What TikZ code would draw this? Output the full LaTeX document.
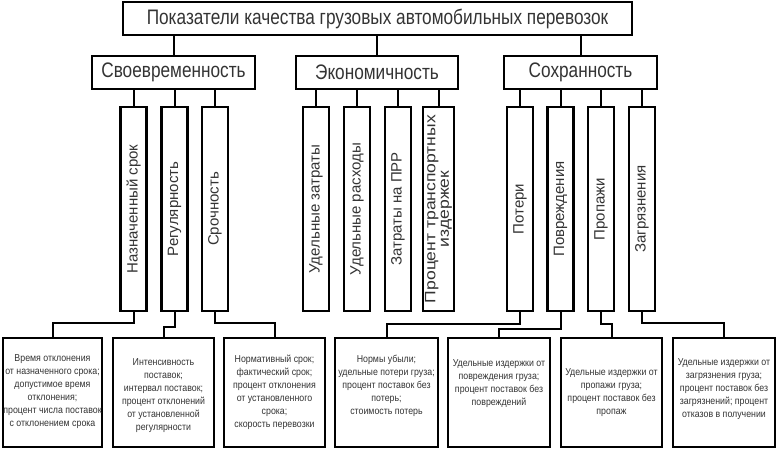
\documentclass[tikz,border=0pt]{standalone}
\usepackage{fontspec}
\setmainfont{Liberation Sans}
\newfontfamily\headfont[FakeStretch=0.82]{Liberation Sans}
\newfontfamily\bodyfont[FakeStretch=0.88]{Liberation Sans}
\newfontfamily\widefont[FakeStretch=1.17]{Liberation Sans}
\usetikzlibrary{calc}
\begin{document}
\begin{tikzpicture}[x=1pt,y=-1pt,
  box/.style={draw=black,line width=2.4pt,inner sep=0pt,text=black!80},
  headbox/.style={box,minimum height=33pt,font=\headfont\fontsize{21}{23}\selectfont},
  vbox/.style={box,minimum height=26pt,minimum width=204pt,rotate=90,
     font=\fontsize{15}{13}\selectfont,align=center},
  bbox/.style={box,minimum height=109pt},
  btext/.style={align=center,inner sep=0pt,text=black!80,
     font=\bodyfont\fontsize{10}{13}\selectfont},
  link/.style={draw=black,line width=2pt}]
\useasboundingbox (0,0) rectangle (776,449);
\node[headbox,minimum width=509pt] (top) at (377.5,18.5) {Показатели качества грузовых автомобильных перевозок};
\node[headbox,minimum width=163pt] (sv) at (173.5,72.5) {Своевременность};
\node[headbox,minimum width=162pt] (ek) at (377,72.5) {Экономичность};
\node[headbox,minimum width=153pt] (so) at (580.5,72.5) {Сохранность};
% vertical boxes
\node[vbox] (s1) at (133.5,209) {Назначенный срок};
\node[vbox] (s2) at (174.5,209) {Регулярность};
\node[vbox] (s3) at (215,209) {Срочность};
\node[vbox] (e1) at (316,209) {Удельные затраты};
\node[vbox] (e2) at (357,209) {Удельные расходы};
\node[vbox] (e3) at (398,209) {Затраты на ПРР};
\node[vbox,minimum height=31pt,font=\widefont\fontsize{15}{13.5}\selectfont] (e4) at (438.5,209) {Процент транспортных\\издержек};
\node[vbox] (c1) at (520,209) {Потери};
\node[vbox] (c2) at (560.5,209) {Повреждения};
\node[vbox] (c3) at (601,209) {Пропажи};
\node[vbox] (c4) at (642,209) {Загрязнения};
% bottom boxes
\node[bbox,minimum width=99pt] (b1) at (52.5,392.5) {};
\node[bbox,minimum width=101pt] (b2) at (163.5,392.5) {};
\node[bbox,minimum width=101pt] (b3) at (274.5,392.5) {};
\node[bbox,minimum width=103pt] (b4) at (386.5,392.5) {};
\node[bbox,minimum width=102pt] (b5) at (499,392.5) {};
\node[bbox,minimum width=101pt] (b6) at (611.5,392.5) {};
\node[bbox,minimum width=102pt] (b7) at (724,392.5) {};
\node[btext] (t1) at ($(b1)+(0,-1)$) {Время отклонения\\от назначенного срока;\\допустимое время\\отклонения;\\процент числа поставок\\с отклонением срока};
\node[btext] (t2) at ($(b2)+(0,3)$) {Интенсивность\\поставок;\\интервал поставок;\\процент отклонений\\от установленной\\регулярности};
\node[btext] (t3) at ($(b3)+(0,0)$) {Нормативный срок;\\фактический срок;\\процент отклонения\\от установленного\\срока;\\скорость перевозки};
\node[btext] (t4) at ($(b4)+(0,-7)$) {Нормы убыли;\\удельные потери груза;\\процент поставок без\\потерь;\\стоимость потерь};
\node[btext] (t5) at ($(b5)+(0,-9)$) {Удельные издержки от\\повреждения груза;\\процент поставок без\\повреждений};
\node[btext] (t6) at ($(b6)+(0,0)$) {Удельные издержки от\\пропажи груза;\\процент поставок без\\пропаж};
\node[btext] (t7) at ($(b7)+(0,-3)$) {Удельные издержки от\\загрязнения груза;\\процент поставок без\\загрязнений; процент\\отказов в получении};
% top links
\foreach \n in {sv,ek,so} \draw[link] (\n.north) -- (\n.north |- top.south);
% second level links
\foreach \n in {s1,s2,s3} \draw[link] (\n.east) -- (\n.east |- sv.south);
\foreach \n in {e1,e2,e3,e4} \draw[link] (\n.east) -- (\n.east |- ek.south);
\foreach \n in {c1,c2,c3,c4} \draw[link] (\n.east) -- (\n.east |- so.south);
% bottom links
\draw[link] (s1.west) -- (s1.west |- 0,323) -| (b1.north);
\draw[link] (s2.west) -- (s2.west |- 0,327) -| (b2.north);
\draw[link] (s3.west) -- (s3.west |- 0,323) -| (b3.north);
\draw[link] (c1.west) -- (c1.west |- 0,324) -| (b4.north);
\draw[link] (c2.west) -- (c2.west |- 0,329) -| (b5.north);
\draw[link] (c3.west) -- (c3.west |- 0,324) -| (b6.north);
\draw[link] (c4.west) -- (c4.west |- 0,323) -| (b7.north);
\end{tikzpicture}
\end{document}
